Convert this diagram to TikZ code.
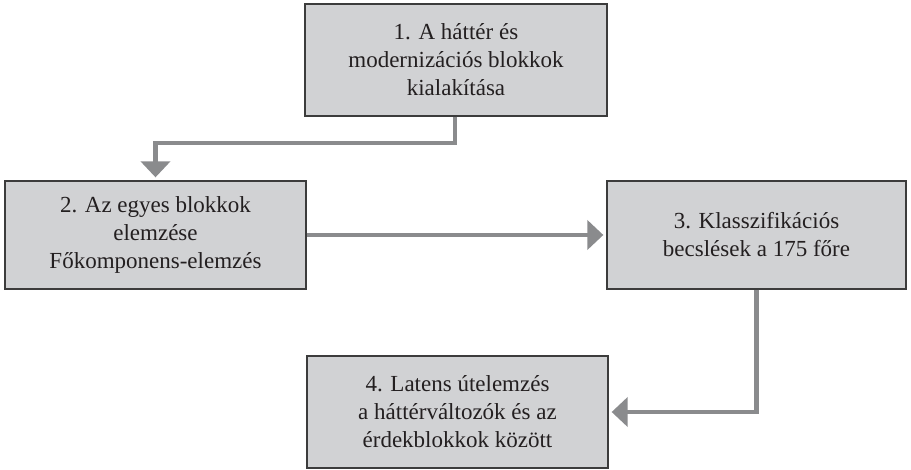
\documentclass[tikz,border=0pt]{standalone}
\usepackage{fontspec}
\setmainfont{Liberation Serif}
\usetikzlibrary{arrows.meta,calc}
\definecolor{boxfill}{HTML}{D1D2D4}
\definecolor{boxdraw}{HTML}{3C3C3C}
\definecolor{arrgray}{HTML}{8A8B8D}
\definecolor{txt}{HTML}{231F20}
\begin{document}
\begin{tikzpicture}[x=1pt,y=-1pt,
  stepbox/.style={draw=boxdraw,fill=boxfill,line width=1.3pt,align=center,
    text=txt,font=\fontsize{23}{28}\selectfont,inner sep=0pt},
  arr/.style={draw=arrgray,line width=4.5pt,
    -{Triangle[width=29pt,length=16pt]},shorten >=3pt}]
\useasboundingbox (0,0) rectangle (911,470);
\node[stepbox,minimum width=302pt,minimum height=112pt] (b1) at (456,60)
  {1. A háttér és\\modernizációs blokkok\\kialakítása};
\node[stepbox,minimum width=301pt,minimum height=108pt] (b2) at (155.5,235)
  {2. Az egyes blokkok\\elemzése\\Főkomponens-elemzés};
\node[stepbox,minimum width=299pt,minimum height=108pt] (b3) at (756.5,235)
  {3. Klasszifikációs\\becslések a 175 főre};
\node[stepbox,minimum width=301pt,minimum height=112pt] (b4) at (457.5,412)
  {4. Latens útelemzés\\a háttérváltozók és az\\érdekblokkok között};
\coordinate (bend) at (455,143);
\draw[arr] (b1.south -| bend) -- (bend) -| (b2.north);
\draw[arr] (b2.east) -- (b3.west);
\draw[arr] (b3.south) |- (b4.east);
\end{tikzpicture}
\end{document}
